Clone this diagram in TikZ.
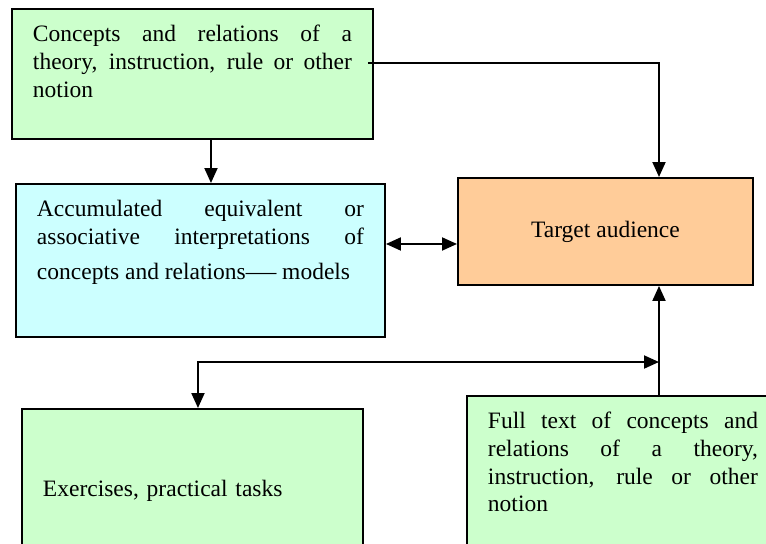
\documentclass[tikz,border=0pt]{standalone}
\usepackage{fontspec}
\setmainfont{Liberation Serif}
\usepackage{graphicx}
\usetikzlibrary{arrows.meta}

\newdimen\pxu \pxu=0.018cm
\newcommand{\diagfont}{\fontsize{12.04pt}{14.14pt}\selectfont}
\newcommand{\blocktext}[3]{\parbox[t][#1\pxu][t]{#2\pxu}{\rule{0pt}{33\pxu}#3}}
\definecolor{palegreen}{HTML}{CCFFCC}
\definecolor{palecyan}{HTML}{CCFFFF}
\definecolor{peach}{HTML}{FFCC99}

\begin{document}
\begin{tikzpicture}[
    x=0.018cm, y=-0.018cm,
    block/.style={draw, rectangle, line width=1pt, anchor=north west, inner xsep=21\pxu, inner ysep=0pt, font=\diagfont},
    arrow/.style={-{Triangle[length=0.27cm, width=0.234cm]}, line width=1pt},
    dblarrow/.style={{Triangle[length=0.27cm, width=0.234cm]}-{Triangle[length=0.27cm, width=0.234cm]}, line width=1pt}
]
\useasboundingbox (0,0) rectangle (766,543);

% Source notions
\node[block, fill=palegreen] (concepts) at (11,8) {\blocktext{130}{319}{Concepts and relations of a\linebreak theory, instruction, rule or other\linebreak notion}};
\node[block, fill=palecyan] (models) at (15,183) {\blocktext{153}{327}{{\parfillskip=0pt Accumulated equivalent or\linebreak associative interpretations of\par}\vspace{7.4\pxu}concepts and relations\scalebox{1.3}[1]{—} models}};

% Audience
\node[block, fill=peach, minimum width=295\pxu, minimum height=107\pxu, inner xsep=0pt, align=center] (target) at (457,177) {Target audience};

% Tasks and full text
\node[block, fill=palegreen, text width=299\pxu, minimum height=164\pxu] (exercises) at (21,408) {Exercises, practical tasks};
\node[block, fill=palegreen] (fulltext) at (466,395) {\blocktext{150}{270}{Full text of concepts and\linebreak relations of a theory,\linebreak instruction, rule or other\linebreak notion}};

% Arrows
\coordinate (joint) at (659,362);
\coordinate (drop) at ([xshift=18.5\pxu]concepts.south);
\coordinate (level) at ([yshift=-12.5\pxu]target.west);
\coordinate (branch) at ([xshift=5.5\pxu]exercises.north);
\draw[arrow] (drop) -- (drop |- models.north);
\draw[arrow] ([xshift=-6\pxu, yshift=11\pxu]concepts.east) -| (target.north -| joint);
\draw[dblarrow] (level) -- (level -| models.east);
\draw[arrow] (fulltext.north -| joint) -- (target.south -| joint);
\draw[dblarrow] (joint) -| (branch);

\end{tikzpicture}
\end{document}
